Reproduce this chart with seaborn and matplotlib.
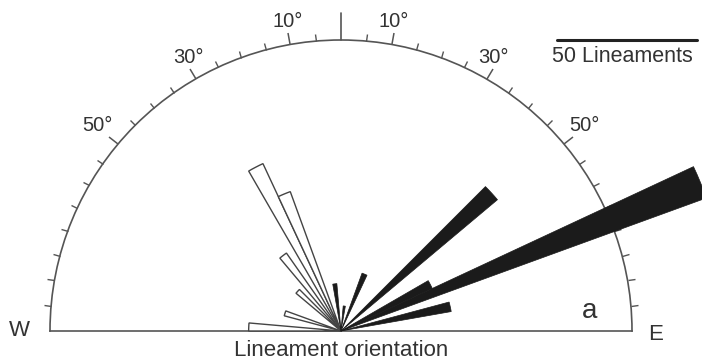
import numpy as np
import matplotlib
matplotlib.use("Agg")
import matplotlib.pyplot as plt
from matplotlib.lines import Line2D
from matplotlib.ticker import FixedLocator
import seaborn as sns

# bins: start azimuth (deg from N, negative = west), 5 deg wide, counts of lineaments
white_start = [-90, -75, -50, -40, -30, -25]
white_count = [33, 21, 21, 34, 66, 53]
black_start = [-10, 5, 20, 45, 60, 65, 75]
black_count = [17, 9, 22, 73, 36, 139, 40]
bin_width = 5
r_max = 104
scale_count = 50

major_ticks = [-50, -30, -10, 10, 30, 50]
major_labels = ["50°", "30°", "10°", "10°", "30°", "50°"]
minor_ticks = [t for t in range(-85, 90, 5) if t not in major_ticks and t != 0]

sns.set_theme(style="ticks")
plt.rcParams["font.family"] = ["Liberation Sans", "DejaVu Sans"]

W, H = 702, 362
cx, cy, R = 341, 331, 291
fig = plt.figure(figsize=(W / 100, H / 100), dpi=100)
# polar axes keeps a square box; the half disc sits in its vertical middle
box_bottom = H - (cy - R / 2) - R
ax = fig.add_axes([(cx - R) / W, box_bottom / H, 2 * R / W, 2 * R / H], projection="polar")
ax.set_theta_zero_location("N")
ax.set_theta_direction(-1)
ax.set_thetamin(-90)
ax.set_thetamax(90)
ax.set_ylim(0, r_max)
ax.grid(False)
ax.set_yticks([])
ax.patch.set_alpha(0)

ax.bar(np.deg2rad(white_start), white_count, width=np.deg2rad(bin_width), align="edge",
       color="white", edgecolor="#444444", linewidth=1.0, clip_on=False, zorder=3)
ax.bar(np.deg2rad(black_start), black_count, width=np.deg2rad(bin_width), align="edge",
       color="#1b1b1b", edgecolor="#1b1b1b", linewidth=0.5, clip_on=False, zorder=4)

for s in ax.spines.values():
    s.set_color("#555555")
    s.set_linewidth(1.2)

ax.set_xticks(np.deg2rad(major_ticks))
ax.set_xticklabels([])
ax.xaxis.set_minor_locator(FixedLocator(np.deg2rad(minor_ticks)))
ax.tick_params(axis="x", which="both", bottom=False, top=True, direction="out", color="#555555")
ax.tick_params(axis="x", which="major", length=8, width=1.1)
ax.tick_params(axis="x", which="minor", length=5, width=1.0)

# north marker
ax.plot([0, 0], [r_max, r_max * 1.093], color="#555555", lw=1.2, clip_on=False)

for t, lab in zip(major_ticks, major_labels):
    shift = 7 * np.sign(t) if abs(t) == 50 else 0
    ax.annotate(lab, (np.deg2rad(t), r_max * 305 / R), xytext=(shift, 0),
                textcoords="offset points", ha="center", va="bottom",
                fontsize=14.5, color="#333333", annotation_clip=False)

# scale bar
px_per_unit = R / r_max
bar_len = scale_count * px_per_unit
fig.add_artist(Line2D([(697 - bar_len) / W, 697 / W], [1 - 40 / H, 1 - 40 / H],
                      color="#222222", lw=2.2))
fig.text(622 / W, 1 - 57 / H, f"{scale_count} Lineaments", ha="center", va="center",
         fontsize=15.5, color="#333333")

fig.text(19 / W, 1 - 330 / H, "W", ha="center", va="center", fontsize=16, color="#333333")
fig.text(656 / W, 1 - 334 / H, "E", ha="center", va="center", fontsize=16, color="#333333")
fig.text(590 / W, 1 - 311 / H, "a", ha="center", va="center", fontsize=20, color="#333333")
fig.text(cx / W, 1 - 351 / H, "Lineament orientation", ha="center", va="center",
         fontsize=16, color="#333333")

fig.savefig("out.png", dpi=100)
